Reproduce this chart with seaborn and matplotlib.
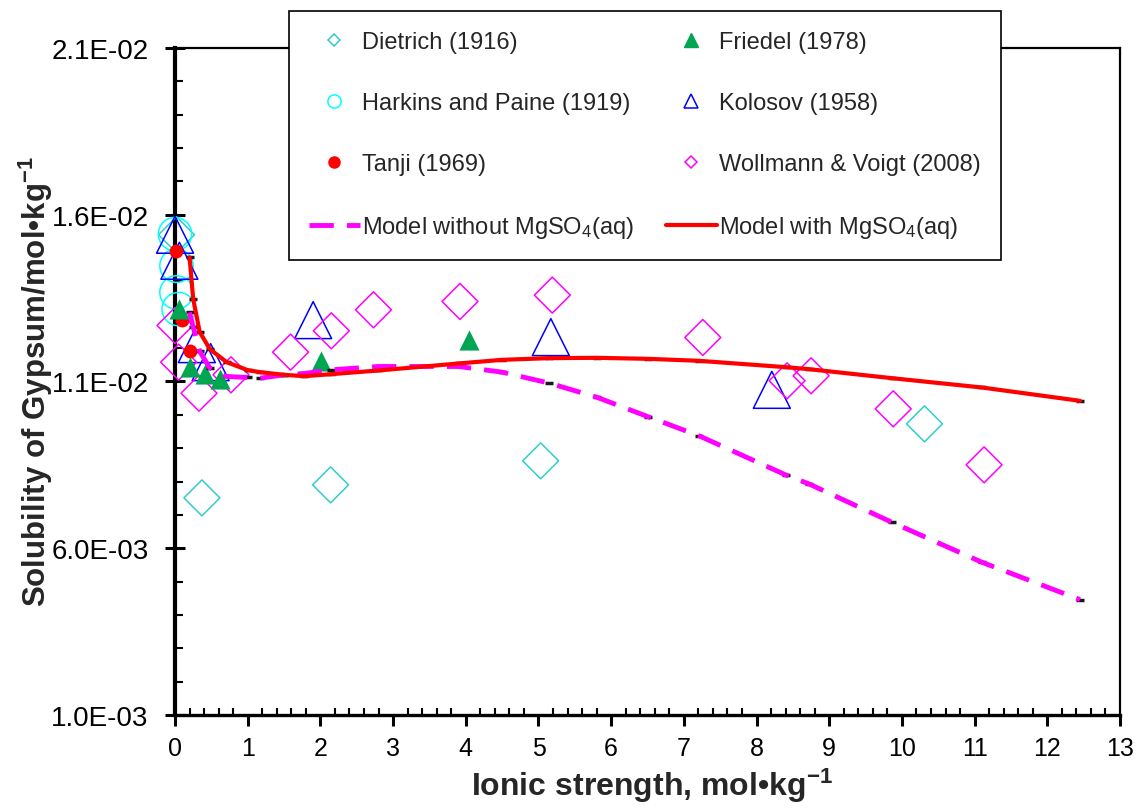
import numpy as np
import pandas as pd
import matplotlib
matplotlib.use('Agg')
import matplotlib.pyplot as plt
from matplotlib.lines import Line2D
from matplotlib.ticker import MultipleLocator, FixedLocator, FuncFormatter
import seaborn as sns

sns.set_theme(style='white')
plt.rcParams['font.family'] = ['Liberation Sans', 'DejaVu Sans']
plt.rcParams.update({'mathtext.fontset': 'custom', 'mathtext.rm': 'Liberation Sans',
                     'mathtext.bf': 'Liberation Sans:bold', 'mathtext.it': 'Liberation Sans:italic'})

# experimental data: ionic strength (mol/kg) and gypsum solubility (mol/kg)
dietrich_I = [0.02, 0.37, 2.14, 5.03, 10.31]
dietrich_S = [0.0154, 0.00751, 0.0079, 0.00862, 0.00973]
harkins_I = [0.0, 0.02, 0.02, 0.05]
harkins_S = [0.01542, 0.01447, 0.01367, 0.01317]
tanji_I = [0.02, 0.10, 0.21]
tanji_S = [0.0149, 0.01285, 0.0119]
friedel_I = [0.05, 0.21, 0.41, 0.62, 2.01, 4.04]
friedel_S = [0.01317, 0.01142, 0.01123, 0.01108, 0.01162, 0.01224]
kolosov_I = [0.0, 0.06, 0.30, 0.49, 1.90, 5.17, 8.21]
kolosov_S = [0.0154, 0.01462, 0.01212, 0.01158, 0.01284, 0.01233, 0.01075]
wollmann_I = [0.0, 0.05, 0.33, 0.77, 1.59, 2.15, 2.73, 3.92, 5.19, 7.26, 8.42, 8.75, 9.88, 11.13]
wollmann_S = [0.01268, 0.01158, 0.01065, 0.0112, 0.01188, 0.01252, 0.01315, 0.0134, 0.01359,
              0.01232, 0.01102, 0.01117, 0.01018, 0.0085]

# model curves
model_I = [0.2, 0.25, 0.34, 0.48, 0.71, 1.0, 1.17, 1.5, 1.78, 2.15, 2.8, 3.9, 4.5, 5.15,
           5.8, 6.5, 7.21, 8.4, 8.72, 9.86, 11.1, 12.45]
with_mgso4 = [0.01472, 0.01347, 0.01248, 0.01197, 0.01158, 0.01134, 0.01128, 0.0112, 0.01116,
              0.01122, 0.01133, 0.01154, 0.01165, 0.0117, 0.01171, 0.01168, 0.01162, 0.01143,
              0.01137, 0.0111, 0.01082, 0.01042]
without_mgso4 = [0.01307, 0.01263, 0.0119, 0.0114, 0.01115, 0.01112, 0.0111, 0.0112, 0.01124,
                 0.01135, 0.01145, 0.01145, 0.01128, 0.01095, 0.01053, 0.00995, 0.00937, 0.0082,
                 0.00793, 0.00678, 0.00558, 0.00446]

y_ticks = [0.001, 0.006, 0.011, 0.016, 0.021]

c_dietrich = '#33CCCC'
c_harkins = '#00FFFF'
c_tanji = '#FF0000'
c_friedel = '#00A651'
c_kolosov = '#0000FF'
c_wollmann = '#FF00FF'

fig = plt.figure(figsize=(11.38, 8.12), dpi=100)
ax = fig.add_axes([0.1538, 0.1182, 0.8304, 0.8215])

# open markers
for xs, ys, mk, s, c in [(dietrich_I, dietrich_S, 'D', 335, c_dietrich),
                         (harkins_I, harkins_S, 'o', 576, c_harkins),
                         (kolosov_I, kolosov_S, '^', 708, c_kolosov),
                         (wollmann_I, wollmann_S, 'D', 335, c_wollmann)]:
    sns.scatterplot(x=xs, y=ys, ax=ax, marker=mk, s=s, facecolor='none', edgecolor=c,
                    linewidth=1.1, clip_on=False, legend=False, zorder=3)
# filled markers
for xs, ys, mk, s, c in [(tanji_I, tanji_S, 'o', 100, c_tanji),
                         (friedel_I, friedel_S, '^', 210, c_friedel)]:
    sns.scatterplot(x=xs, y=ys, ax=ax, marker=mk, s=s, color=c, edgecolor=c,
                    linewidth=0, clip_on=False, legend=False, zorder=3)

# excel-like point markers under the model curves
ax.plot(model_I, without_mgso4, ls='none', marker='_', color='k', ms=6, mew=2.5, zorder=4)
ax.plot(model_I, with_mgso4, ls='none', marker='_', color='k', ms=6, mew=2.5, zorder=4)

sns.lineplot(x=model_I, y=without_mgso4, ax=ax, color=c_wollmann, linewidth=3.5,
             linestyle=(0, (5, 2.7)), sort=False, errorbar=None, legend=False, zorder=5)
sns.lineplot(x=model_I, y=with_mgso4, ax=ax, color='red', linewidth=3,
             sort=False, errorbar=None, legend=False, zorder=6)

ax.set_xlim(0, 13)
ax.set_ylim(0.001, 0.021)
ax.xaxis.set_major_locator(MultipleLocator(1))
ax.xaxis.set_minor_locator(MultipleLocator(0.2))
ax.yaxis.set_major_locator(FixedLocator(y_ticks))
ax.yaxis.set_minor_locator(MultipleLocator(0.001))
ax.yaxis.set_major_formatter(FuncFormatter(lambda v, p: f'{v:.1E}'))

ax.tick_params(which='both', bottom=True, left=True, top=False, right=False, colors='black')
ax.tick_params(axis='x', which='major', direction='out', length=8, width=2.2, labelsize=18, pad=7)
ax.tick_params(axis='x', which='minor', direction='in', length=5, width=1.5)
ax.tick_params(axis='y', which='major', direction='inout', length=14, width=2.2, labelsize=20, pad=12)
ax.tick_params(axis='y', which='minor', direction='in', length=6, width=1.5)

for side, lw in [('left', 3), ('bottom', 2.4), ('right', 1.6), ('top', 1.6)]:
    ax.spines[side].set_color('black')
    ax.spines[side].set_linewidth(lw)

fig.text(652 / 1138, 1 - 786 / 812, r'Ionic strength, mol•kg$^{\mathbf{-1}}$', fontsize=23,
         fontweight='bold', ha='center', va='center')
fig.text(36 / 1138, 1 - 382 / 812, r'Solubility of Gypsum/mol•kg$^{\mathbf{-1}}$', fontsize=22.5,
         fontweight='bold', ha='center', va='center', rotation=90)

handles = [
    Line2D([], [], ls='none', marker='D', mfc='none', mec=c_dietrich, ms=6.5, mew=1.1),
    Line2D([], [], ls='none', marker='o', mfc='none', mec=c_harkins, ms=9.5, mew=1.1),
    Line2D([], [], ls='none', marker='o', mfc=c_tanji, mec=c_tanji, ms=8),
    Line2D([], [], color=c_wollmann, lw=3.5, ls=(0, (5, 2.7))),
    Line2D([], [], ls='none', marker='^', mfc=c_friedel, mec=c_friedel, ms=9.5),
    Line2D([], [], ls='none', marker='^', mfc='none', mec=c_kolosov, ms=9.5, mew=1.1),
    Line2D([], [], ls='none', marker='D', mfc='none', mec=c_wollmann, ms=6.5, mew=1.1),
    Line2D([], [], color='red', lw=3),
]
labels = ['Dietrich (1916)', 'Harkins and Paine (1919)', 'Tanji (1969)',
          r'Model without MgSO$_4$(aq)', 'Friedel (1978)', 'Kolosov (1958)',
          'Wollmann & Voigt (2008)', r'Model with MgSO$_4$(aq)']
leg = ax.legend(handles, labels, ncol=2, loc='upper left', bbox_to_anchor=(289 / 1138, 1 - 12 / 812),
                bbox_transform=fig.transFigure, borderaxespad=0, fontsize=17, frameon=True,
                fancybox=False, framealpha=1, edgecolor='black', handlelength=2.15,
                handletextpad=0.1, labelspacing=1.65, columnspacing=1.35, borderpad=0.85)
leg.get_frame().set_linewidth(1.2)
leg.set_zorder(10)

plt.savefig('out.png', dpi=100)
plt.close()
